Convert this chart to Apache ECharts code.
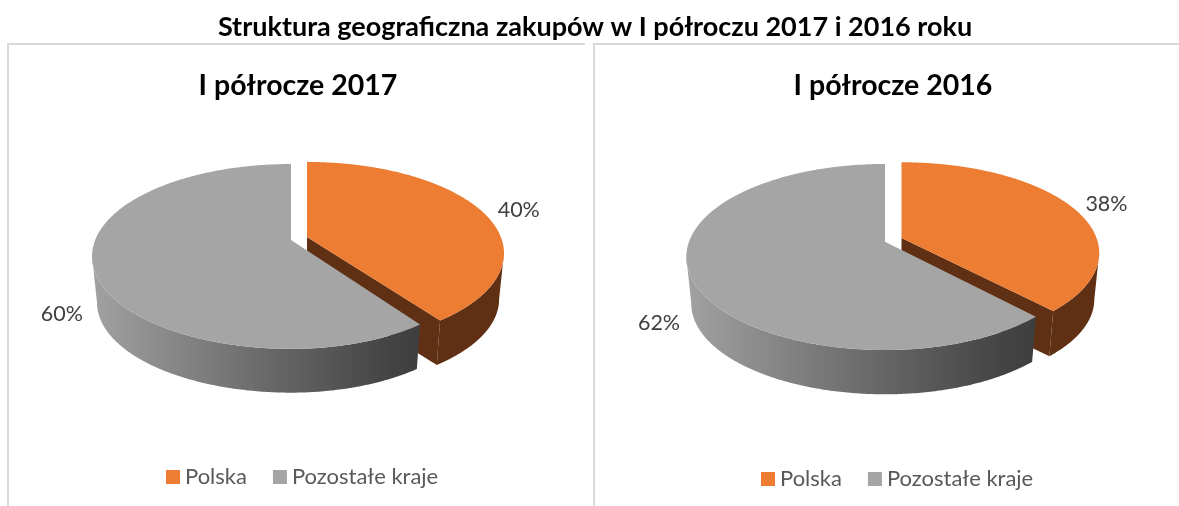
<!DOCTYPE html>
<html><head><meta charset="utf-8">
<style>html,body{margin:0;padding:0;background:#fff}#c{width:1179px;height:506px}</style>
<script src="https://cdn.jsdelivr.net/npm/echarts@6/dist/echarts.min.js"></script>
</head><body><div id="c"></div>
<script>
const chartTitle = 'Struktura geograficzna zakupów w I półroczu 2017 i 2016 roku';
const panelTitles = ['I półrocze 2017', 'I półrocze 2016'];
const categories = ['Polska', 'Pozostałe kraje'];
const values2017 = [40, 60];
const values2016 = [38, 62];
const colors = ['#EC7D32', '#A5A5A5'];
const FONT = 'Lato, "Open Sans", sans-serif';

// pie layout: projection of the exploded 3D disc for each panel
const pies = [
  { values: values2017, rx: 195.8, ry: [88.4, 89.5], k: 0.178, s: 0.975, dy: 46.5,
    apex: [[307, 237], [291, 240]], right: [0.99, 0.96], lab: [[37, -1], [-32, 45]] },
  { values: values2016, rx: 196, ry: [88.2, 90.5], k: 0.1645, s: 0.975, dy: 47,
    apex: [[901.5, 238], [885, 241.7]], right: [0.995, 0.99], lab: [[34, -3], [-32, 46]] }
];

function project(p, i, a) {
  const u = Math.sin(a), v = Math.cos(a), d = 1 + p.k * v;
  return [p.rx * u * (u > 0 ? p.right[i] : 1) / d, -p.ry[i] * v / d];
}
function sliceRender(pieIdx, i) {
  return function () {
    const p = pies[pieIdx], vals = p.values, tot = vals[0] + vals[1];
    let from = 0; for (let j = 0; j < i; j++) from += vals[j];
    const a0 = from / tot * 2 * Math.PI, a1 = (from + vals[i]) / tot * 2 * Math.PI;
    const cx = p.apex[i][0], cy = p.apex[i][1];
    const top = [], bot = [];
    let ext = 0, extW = -1;
    for (let n = 0; n <= 360; n++) {
      const q = project(p, i, a0 + (a1 - a0) * n / 360);
      top.push([cx + q[0], cy + q[1]]);
      bot.push([cx + q[0] * p.s, cy + q[1] * p.s + p.dy]);
      if (Math.abs(q[0]) > extW) { extW = Math.abs(q[0]); ext = n; }
    }
    // visible outer wall: from the widest point of the rim round the front to the cut edge
    const rimTop = i === 0 ? top.slice(ext) : top.slice(0, ext + 1);
    const rimBot = i === 0 ? bot.slice(ext) : bot.slice(0, ext + 1);
    const xs = rimBot.map(b => b[0]);
    const minX = Math.min.apply(null, xs), maxX = Math.max.apply(null, xs);
    const sideFill = i === 0 ? '#5F3013' : new echarts.graphic.LinearGradient(minX, 0, maxX, 0, [
      { offset: 0, color: '#A0A0A0' }, { offset: 0.5, color: '#6C6C6C' },
      { offset: 0.92, color: '#434343' }, { offset: 1, color: '#3F3F3F' }], true);
    const kids = [];
    kids.push({ type: 'polygon', shape: { points: rimTop.concat(rimBot.slice().reverse()) }, style: { fill: sideFill } });
    if (i === 0) {
      const inner = top[top.length - 1], innerB = bot[bot.length - 1];
      kids.push({ type: 'polygon', shape: { points: [[cx, cy], inner, innerB, [cx, cy + p.dy]] }, style: { fill: '#5F3013' } });
    }
    kids.push({ type: 'polygon', shape: { points: [[cx, cy]].concat(top) }, style: { fill: colors[i] } });
    const m = project(p, i, (a0 + a1) / 2);
    kids.push({ type: 'text', style: {
      x: cx + m[0] + p.lab[i][0], y: cy + m[1] + p.lab[i][1],
      text: Math.round(vals[i] / tot * 100) + '%', fill: '#404040', font: '21.5px ' + FONT,
      align: 'center', verticalAlign: 'middle' } });
    return { type: 'group', children: kids };
  };
}
const series = [];
pies.forEach((p, pi) => categories.forEach((name, i) => series.push({
  type: 'custom', coordinateSystem: 'none', name: name, silent: true,
  renderItem: sliceRender(pi, i), data: [p.values[i]], itemStyle: { color: colors[i] }, animation: false
})));

const legendBase = { orient: 'horizontal', itemWidth: 14, itemHeight: 14, itemGap: 26, icon: 'rect',
  data: categories, selectedMode: false, textStyle: { fontFamily: FONT, fontSize: 22, color: '#595959' }, padding: 0 };

const lineStyle = { fill: '#D9D9D9' };
const chart = echarts.init(document.getElementById('c'), null, { renderer: 'canvas' });
chart.setOption({
  animation: false,
  backgroundColor: '#fff',
  title: [
    { text: chartTitle, left: 595, top: 14, textAlign: 'center', padding: 0, textStyle: { fontFamily: FONT, fontSize: 27, fontWeight: 700, color: '#000' } },
    { text: panelTitles[0], left: 298, top: 71, textAlign: 'center', padding: 0, textStyle: { fontFamily: FONT, fontSize: 28.5, fontWeight: 700, color: '#000' } },
    { text: panelTitles[1], left: 893, top: 71, textAlign: 'center', padding: 0, textStyle: { fontFamily: FONT, fontSize: 28.5, fontWeight: 700, color: '#000' } }
  ],
  legend: [
    Object.assign({}, legendBase, { left: 166, top: 466 }),
    Object.assign({}, legendBase, { left: 761, top: 468 })
  ],
  graphic: [
    { type: 'rect', shape: { x: 7, y: 43, width: 578, height: 2 }, style: lineStyle, silent: true },
    { type: 'rect', shape: { x: 7, y: 43, width: 2, height: 463 }, style: lineStyle, silent: true },
    { type: 'rect', shape: { x: 593, y: 43, width: 586, height: 2 }, style: lineStyle, silent: true },
    { type: 'rect', shape: { x: 593, y: 43, width: 2, height: 463 }, style: lineStyle, silent: true }
  ],
  series: series
});
</script></body></html>
